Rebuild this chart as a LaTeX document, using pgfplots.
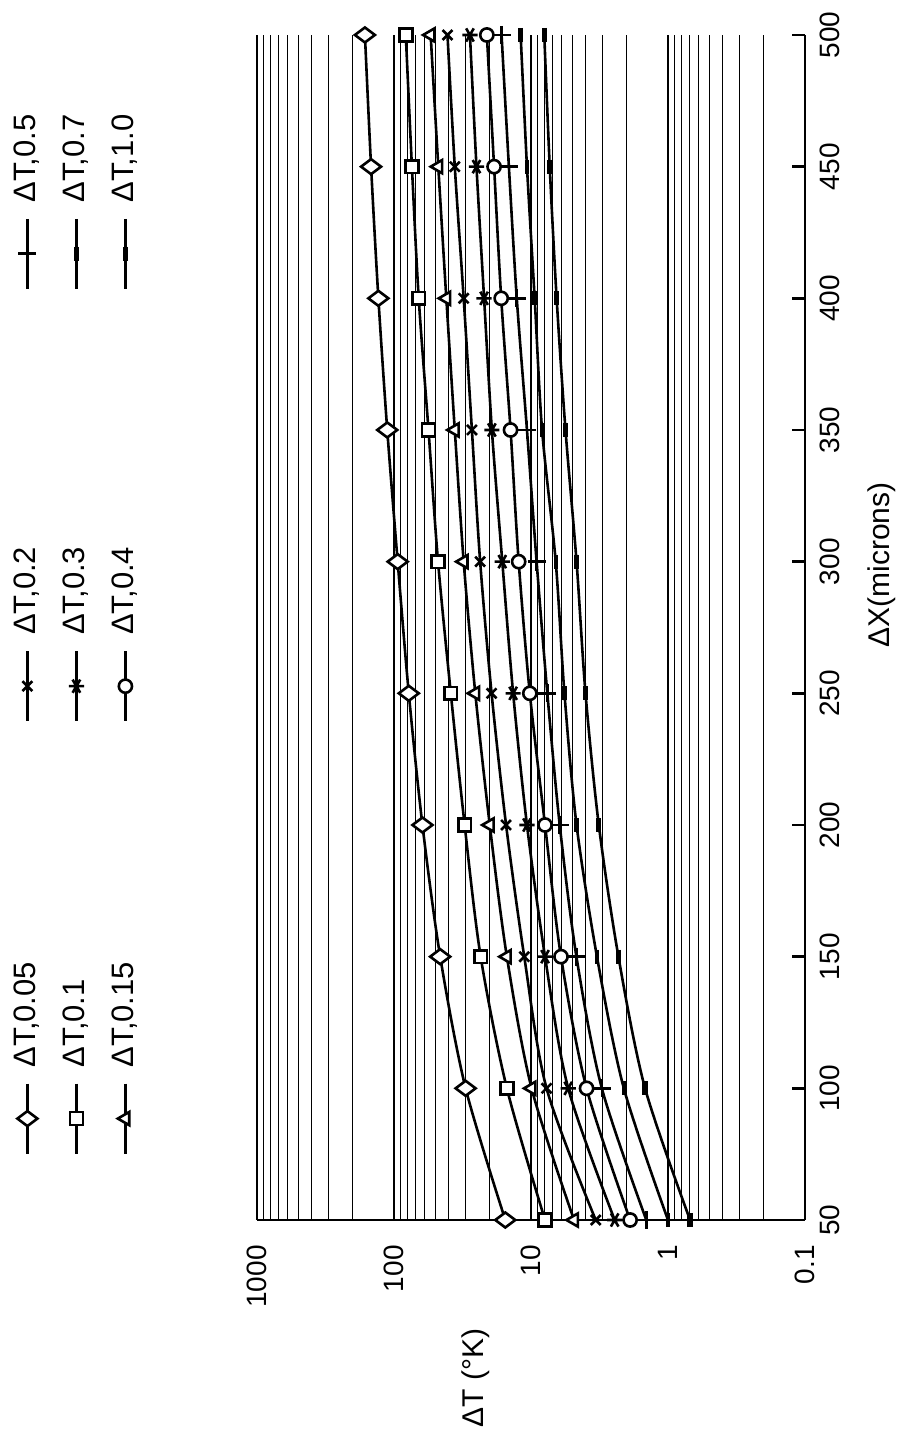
\documentclass[border=0pt]{standalone}
\usepackage{pgfplots}
\pgfplotsset{compat=1.18}
\usepackage{fontspec}
\setmainfont{Liberation Sans}
\begin{document}
\begin{tikzpicture}
\begin{axis}[
  scale only axis,
  width=274pt, height=592.5pt,
  xmode=log, x dir=reverse,
  xmin=0.1, xmax=1000, ymin=50, ymax=500,
  clip=false,
  axis x line*=bottom, axis y line*=right,
  axis line style={line width=1.2pt, -},
  xtick={0.1,1,10,100,1000},
  xticklabels={0.1,1,10,100,1000},
  minor xtick={0.2,0.3,0.4,0.5,0.6,0.7,0.8,0.9,2,3,4,5,6,7,8,9,20,30,40,50,60,70,80,90,200,300,400,500,600,700,800,900},
  xmajorgrids, xminorgrids,
  major grid style={black, line width=0.55pt},
  minor grid style={black, line width=0.5pt},
  xtick style={draw=none},
  minor tick style={draw=none},
  ytick={50,100,150,200,250,300,350,400,450,500},
  yticklabels={50,100,150,200,250,300,350,400,450,500},
  ytick style={black, line width=1.2pt},
  tick align=inside, major tick length=6.5pt,
  xticklabel style={rotate=90, anchor=east, inner sep=0pt, font=\fontsize{14}{16}\selectfont},
  yticklabel style={rotate=90, anchor=north, inner sep=0pt, font=\fontsize{14}{16}\selectfont},
  xticklabel shift=12.5pt,
  yticklabel shift=7.5pt,
  legend image code/.code={\draw[overlay, mark repeat=2, mark phase=2, #1] plot coordinates {(8.5pt,-7pt) (8.5pt,-24.5pt) (8.5pt,-42pt)};},
  legend columns=3,
  legend cell align=left,
  legend style={at={(-0.4507,0.1266)}, anchor=south west, draw=none, fill=none, inner sep=0pt,
    font=\fontsize{15.5}{17}\selectfont, row sep=158pt,
    nodes={rotate=90, inner sep=1pt, text height=11.5pt, text depth=2.5pt, text width=56pt, align=left},
    /tikz/every odd column/.append style={column sep=0pt},
    /tikz/every even column/.append style={column sep=8.5pt}},
]
\coordinate (BL) at (axis cs:1000,50);
\coordinate (TR) at (axis cs:0.1,500);

% legend images (row-wise in the picture: top row first)
\addlegendimage{black, line width=1.3pt, mark=+, mark size=4.5pt, mark options={solid}}
\addlegendentry{ΔT,0.5}
\addlegendimage{black, line width=1.3pt, mark=|, mark size=3.5pt, mark options={solid, line width=2.2pt}}
\addlegendentry{ΔT,0.7}
\addlegendimage{black, line width=1.3pt, mark=|, mark size=3.5pt, mark options={solid, line width=2.6pt}}
\addlegendentry{ΔT,1.0}
\addlegendimage{black, line width=1.3pt, mark=x, mark size=3.5pt, mark options={solid}}
\addlegendentry{ΔT,0.2}
\addlegendimage{black, line width=1.3pt, mark=asterisk, mark size=3.8pt, mark options={solid, rotate=90}}
\addlegendentry{ΔT,0.3}
\addlegendimage{black, line width=1.3pt, mark=*, mark size=3.3pt, mark options={fill=white, solid}}
\addlegendentry{ΔT,0.4}
\addlegendimage{black, line width=1.3pt, mark=diamond*, mark size=5pt, mark options={fill=white, solid, rotate=90}}
\addlegendentry{ΔT,0.05}
\addlegendimage{black, line width=1.3pt, mark=square*, mark size=3.2pt, mark options={fill=white, solid}}
\addlegendentry{ΔT,0.1}
\addlegendimage{black, line width=1.3pt, mark=triangle*, mark size=3.8pt, mark options={fill=white, solid, rotate=90}}
\addlegendentry{ΔT,0.15}

% dT 0.05
\addplot[black, line width=1.3pt, smooth, mark=diamond*, mark size=5pt, mark options={fill=white, rotate=90}, forget plot]
 coordinates {(15.4,50)(30,100)(46,150)(62,200)(78,250)(94,300)(112,350)(130,400)(147,450)(163,500)};
% dT 0.1
\addplot[black, line width=1.3pt, smooth, mark=square*, mark size=3.2pt, mark options={fill=white}, forget plot]
 coordinates {(7.9,50)(15,100)(23.3,150)(30.5,200)(38.5,250)(47.7,300)(56,350)(66,400)(74,450)(82,500)};
% dT 0.15
\addplot[black, line width=1.3pt, smooth, mark=triangle*, mark size=3.8pt, mark options={fill=white, rotate=90}, forget plot]
 coordinates {(4.85,50)(9.9,100)(15,150)(20,200)(25.5,250)(31,300)(36,350)(41.5,400)(47.5,450)(54,500)};
% dT 0.2
\addplot[black, line width=1.3pt, smooth, mark=x, mark size=3.5pt, forget plot]
 coordinates {(3.37,50)(7.7,100)(11.2,150)(15.2,200)(19.4,250)(23.5,300)(27,350)(31,400)(36,450)(40.7,500)};
% dT 0.3
\addplot[black, line width=1.3pt, smooth, mark=asterisk, mark size=3.8pt, mark options={rotate=90}, forget plot]
 coordinates {(2.45,50)(5.35,100)(7.9,150)(10.7,200)(13.5,250)(16.2,300)(19.3,350)(22,400)(25,450)(27.9,500)};
% dT 0.4
\addplot[black, line width=1.3pt, smooth, mark=*, mark size=3.3pt, mark options={fill=white}, forget plot]
 coordinates {(1.89,50)(3.93,100)(6.04,150)(7.9,200)(10.2,250)(12.3,300)(14.1,350)(16.5,400)(18.6,450)(21,500)};
% dT 0.5
\addplot[black, line width=1.3pt, smooth, mark=+, mark size=4.5pt, forget plot]
 coordinates {(1.44,50)(3.04,100)(4.66,150)(6.17,200)(7.6,250)(9.1,300)(10.7,350)(12.7,400)(14.5,450)(16.4,500)};
% dT 0.7
\addplot[black, line width=1.3pt, smooth, mark=|, mark size=3.5pt, mark options={line width=2.2pt}, forget plot]
 coordinates {(1.0,50)(2.1,100)(3.3,150)(4.65,200)(5.7,250)(6.6,300)(8.3,350)(9.4,400)(10.7,450)(11.9,500)};
% dT 1.0
\addplot[black, line width=1.3pt, smooth, mark=|, mark size=3.5pt, mark options={line width=2.6pt}, forget plot]
 coordinates {(0.69,50)(1.47,100)(2.3,150)(3.2,200)(4.0,250)(4.65,300)(5.6,350)(6.5,400)(7.3,450)(8.0,500)};
\end{axis}
\node[rotate=90, font=\fontsize{15}{17}\selectfont] at ([shift={(109.5pt,-79pt)}]BL) {ΔT (°K)};
\node[rotate=90, font=\fontsize{15}{17}\selectfont] at ([shift={(38.5pt,-265pt)}]TR) {ΔX(microns)};
\pgfresetboundingbox
\path[use as bounding box] ([shift={(-128.5pt,-111.5pt)}]BL) rectangle ([shift={(55.5pt,17.5pt)}]TR);
\end{tikzpicture}
\end{document}
